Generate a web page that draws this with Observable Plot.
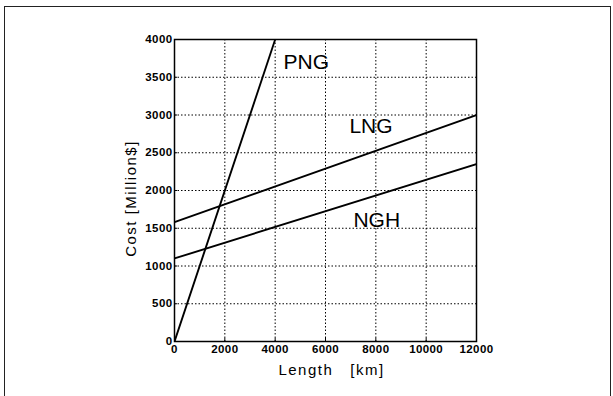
<!DOCTYPE html>
<html><head><meta charset="utf-8">
<script src="https://cdn.jsdelivr.net/npm/d3@7"></script>
<script src="https://cdn.jsdelivr.net/npm/@observablehq/plot@0.6"></script>
<style>
body{margin:0;background:#fff;}
#wrap{position:relative;width:613px;height:396px;overflow:hidden;background:#fff}
#border{position:absolute;left:4px;top:6px;width:607px;height:400px;border:1.5px solid #222;border-bottom:none;box-sizing:border-box;pointer-events:none}
svg{position:absolute;left:0;top:0}
</style></head><body><div id="wrap"><div id="border"></div></div>
<script>
// Series: Length [km] -> Cost [Million$]
const pngLength = [0, 4000];
const pngCost   = [0, 4000];
const lngLength = [0, 12000];
const lngCost   = [1580, 3000];
const nghLength = [0, 12000];
const nghCost   = [1100, 2350];

const seriesNames = ["PNG", "LNG", "NGH"];
// label anchor points (data units)
const labelLength = [4330, 6950, 7110];
const labelCost   = [3610, 2755, 1510];

const xTicks = [0, 2000, 4000, 6000, 8000, 10000, 12000];
const yTicks = [0, 500, 1000, 1500, 2000, 2500, 3000, 3500, 4000];

const toRows = (xs, ys, name) => xs.map((x, i) => ({x, y: ys[i], name}));
const rows = [
  ...toRows(pngLength, pngCost, "PNG"),
  ...toRows(lngLength, lngCost, "LNG"),
  ...toRows(nghLength, nghCost, "NGH")
];
const labels = seriesNames.map((n, i) => ({name: n, x: labelLength[i], y: labelCost[i]}));

const chart = Plot.plot({
  width: 613,
  height: 396,
  marginLeft: 174,
  marginRight: 137,
  marginTop: 39,
  marginBottom: 55,
  style: {fontFamily: "Liberation Sans, Arial, sans-serif", color: "#000", background: "transparent"},
  x: {domain: [0, 12000]},
  y: {domain: [0, 4000]},
  marks: [
    Plot.gridX(xTicks.slice(1, -1), {stroke: "#000", strokeOpacity: 1, strokeWidth: 1, strokeDasharray: "1.5,2"}),
    Plot.gridY(yTicks.slice(1, -1), {stroke: "#000", strokeOpacity: 1, strokeWidth: 1, strokeDasharray: "1.5,2"}),
    Plot.line(rows, {x: "x", y: "y", z: "name", stroke: "#000", strokeWidth: 1.9, clip: true}),
    Plot.frame({stroke: "#000", strokeWidth: 1.5}),
    Plot.axisX(xTicks, {tickSize: -3, tickPadding: 6, label: null, fontSize: 11.5, fontWeight: "bold", tickFormat: d => String(d)}),
    Plot.axisY(yTicks, {tickSize: -3, tickPadding: 5, label: null, fontSize: 11.5, fontWeight: "bold", tickFormat: d => String(d)}),
    Plot.text(labels, {x: "x", y: "y", text: "name", textAnchor: "start", lineAnchor: "bottom", fontSize: 21, fill: "#000"}),
    Plot.text(["Length   [km]"], {frameAnchor: "bottom", textAnchor: "middle", dx: 6, dy: 23, lineAnchor: "top", fontSize: 15, fill: "#000"}),
    Plot.text(["Cost [Million$]"], {frameAnchor: "left", textAnchor: "middle", lineAnchor: "middle", rotate: -90, dx: -43, dy: 8, fontSize: 15, fill: "#000"})
  ]
});
const sel = d3.select(chart);
sel.selectAll('g[aria-label="text"] text')
  .filter(function() { return this.textContent.includes("["); })
  .attr("letter-spacing", "1.5px");
sel.selectAll('g[aria-label$="tick label"] text').attr("letter-spacing", "0.4px");
document.getElementById("wrap").appendChild(chart);
</script>
</body></html>
